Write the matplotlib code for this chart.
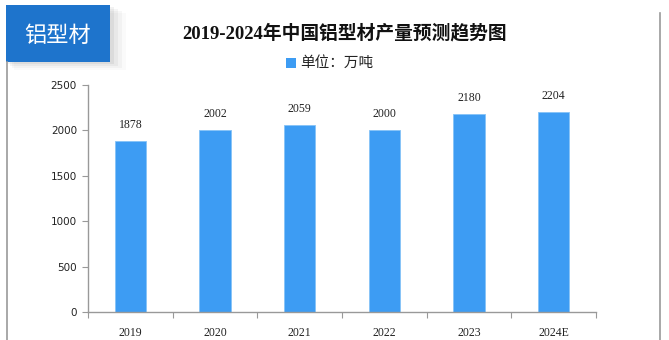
import matplotlib.pyplot as plt
from matplotlib.patches import Rectangle
from matplotlib.lines import Line2D
import numpy as np

# 数据
years = ['2019', '2020', '2021', '2022', '2023', '2024E']
output = [1878, 2002, 2059, 2000, 2180, 2204]
yticks = [0, 500, 1000, 1500, 2000, 2500]

W, H = 669, 340
fig = plt.figure(figsize=(W / 100, H / 100), dpi=100)
fig.patch.set_facecolor('white')

cjk = ['Noto Sans CJK SC', 'DejaVu Sans']
serif = ['Liberation Serif', 'Noto Sans CJK SC']

# 外框线
fig.add_artist(Line2D([7 / W, 7 / W], [0, 1 - 62 / H], color='#9a9a9a', lw=1.2))
fig.add_artist(Line2D([660 / W, 660 / W], [0, 1 - 13 / H], color='#9a9a9a', lw=1.2))

# 左上角标签（带阴影）
for i, a in enumerate([0.05, 0.04, 0.03, 0.02]):
    d = (i + 1) * 2
    fig.add_artist(Rectangle(((6 + d) / W, 1 - (62 + d) / H), (104 + d) / W, (57) / H,
                             facecolor='#000000', alpha=a, edgecolor='none'))
fig.add_artist(Rectangle((6 / W, 1 - 62 / H), 104 / W, 57 / H,
                         facecolor='#1e74cc', edgecolor='none'))
fig.text(58 / W, 1 - 35 / H, '铝型材', color='white', fontsize=16,
         family=cjk, ha='center', va='center')

# 标题
fig.text(345 / W, 1 - 33 / H, '2019-2024年中国铝型材产量预测趋势图', fontsize=13.5,
         family=serif, weight='bold', ha='center', va='center', color='#111111')

# 图例
fig.add_artist(Rectangle((286 / W, 1 - 68 / H), 10 / W, 10 / H,
                         facecolor='#3d9cf3', edgecolor='none'))
fig.text(300 / W, 1 - 63 / H, '单位：万吨', fontsize=10.5, family=cjk,
         ha='left', va='center', color='#222222')

ax = fig.add_axes([88 / W, 1 - 312 / H, (596 - 88) / W, (312 - 85) / H])
x = np.arange(len(years))
bars = ax.bar(x, output, width=0.37, color='#3d9cf3', edgecolor='#86c3f7', linewidth=0.6)

for xi, v in zip(x, output):
    ax.text(xi, v + 110, str(v), ha='center', va='bottom', fontsize=8.5,
            family=serif, color='#222222')

ax.set_xlim(-0.5, len(years) - 0.5)
ax.set_ylim(0, 2500)
ax.set_yticks(yticks)
ax.set_yticklabels([str(t) for t in yticks], fontsize=7.5, family='DejaVu Sans', color='#222222')

ax.set_xticks(np.arange(-0.5, len(years)), labels=[''] * (len(years) + 1))
ax.set_xticks(x, labels=years, minor=True)
ax.tick_params(axis='x', which='major', length=4, color='#999999', direction='out')
ax.tick_params(axis='x', which='minor', length=0, pad=11)
for lbl in ax.get_xticklabels(minor=True):
    lbl.set_fontsize(8.5)
    lbl.set_family(serif)
    lbl.set_color('#222222')
ax.tick_params(axis='y', length=4, color='#999999', pad=4)

for s in ['top', 'right']:
    ax.spines[s].set_visible(False)
for s in ['left', 'bottom']:
    ax.spines[s].set_color('#999999')
    ax.spines[s].set_linewidth(1)

fig.savefig('out.png', dpi=100, facecolor='white')
